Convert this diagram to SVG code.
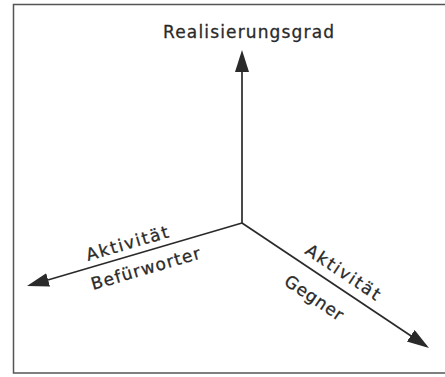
<svg xmlns="http://www.w3.org/2000/svg" width="445" height="377" viewBox="0 0 445 377">
<style>
.lbl{font-family:"DejaVu Sans","Liberation Sans",sans-serif;font-size:17px;fill:#2a2a2a;stroke:#2a2a2a;stroke-width:0.3;}
.ax{stroke:#2a2a2a;stroke-width:1.7;fill:none;}
</style>
<defs>
<marker id="ah" markerUnits="userSpaceOnUse" markerWidth="26" markerHeight="16" refX="19" refY="7" orient="auto">
<path d="M0,0 L22,7 L0,14 z" fill="#2a2a2a"/>
</marker>
</defs>
<rect x="0" y="0" width="445" height="377" fill="#fff"/>
<rect x="13.5" y="4.5" width="440" height="368.5" fill="none" stroke="#555" stroke-width="1.5"/>
<g id="connectors">
<line class="ax" x1="242" y1="223" x2="242" y2="53" marker-end="url(#ah)"/>
<line class="ax" x1="242" y1="223" x2="29.9" y2="285.2" marker-end="url(#ah)"/>
<line class="ax" x1="242" y1="223" x2="426.5" y2="346.3" marker-end="url(#ah)"/>
</g>
<g id="realisierungsgrad">
<text class="lbl" x="163" y="38" textLength="171" lengthAdjust="spacing">Realisierungsgrad</text>
</g>
<g id="befuerworter">
<text class="lbl" transform="translate(88 261) rotate(-16.3)" textLength="85" lengthAdjust="spacing">Aktivität</text>
<text class="lbl" transform="translate(93 290) rotate(-16.3)" textLength="113" lengthAdjust="spacing">Befürworter</text>
</g>
<g id="gegner">
<text class="lbl" transform="translate(304 253) rotate(33.8)" textLength="86" lengthAdjust="spacing">Aktivität</text>
<text class="lbl" transform="translate(283 284) rotate(33.8)" textLength="67" lengthAdjust="spacing">Gegner</text>
</g>
</svg>
